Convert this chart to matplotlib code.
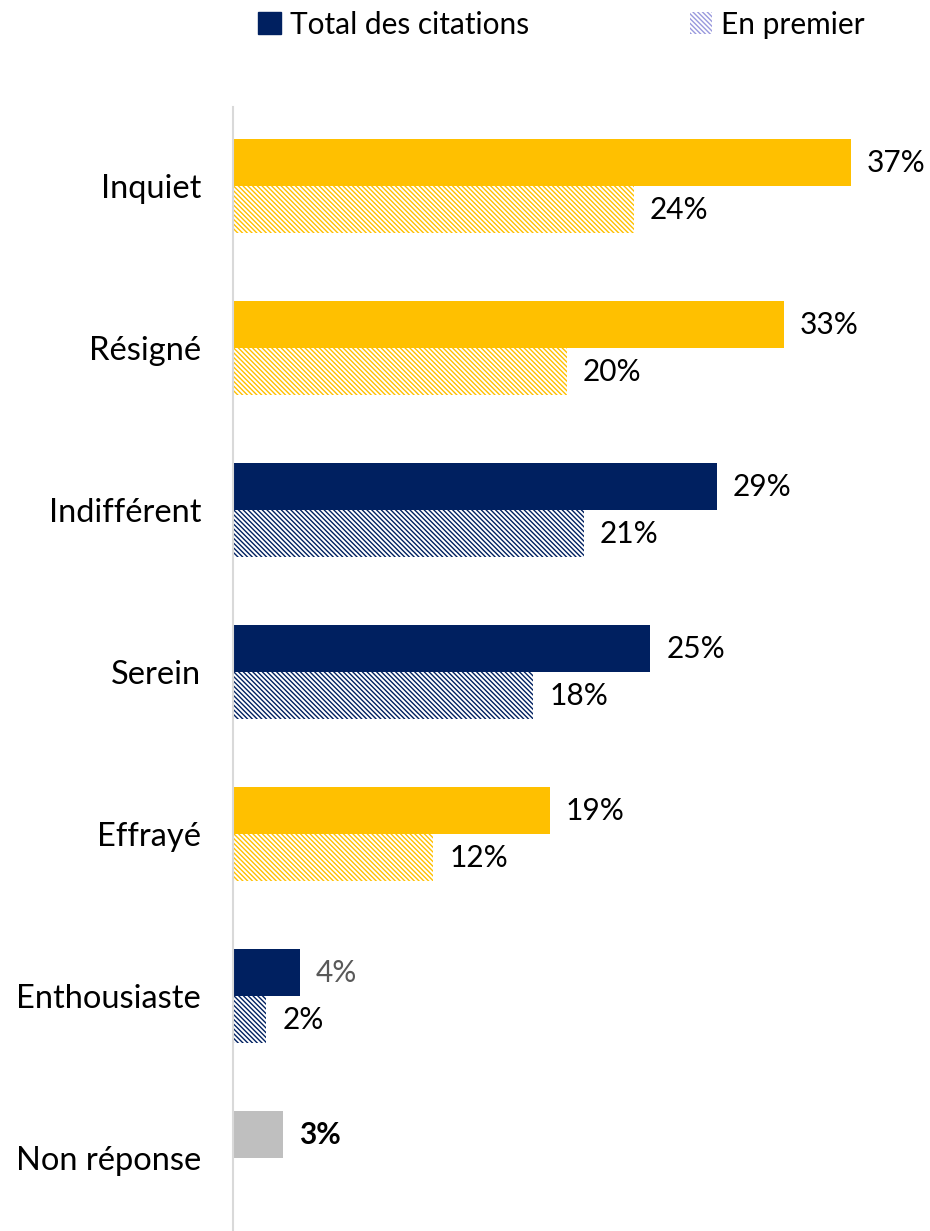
import numpy as np
import matplotlib.pyplot as plt
from matplotlib.patches import Patch

plt.rcParams['font.family'] = ['Lato', 'DejaVu Sans']
plt.rcParams['hatch.linewidth'] = 1.0

# Données
categories = ['Inquiet', 'Résigné', 'Indifférent', 'Serein', 'Effrayé',
              'Enthousiaste', 'Non réponse']
total = [37, 33, 29, 25, 19, 4, 3]
premier = [24, 20, 21, 18, 12, 2, np.nan]
couleurs = ['#FFC000', '#FFC000', '#002060', '#002060', '#FFC000',
            '#002060', '#BFBFBF']

fig = plt.figure(figsize=(9.3, 12.31), dpi=100)
ax = fig.add_axes([0.2505, 0.0, 0.736, 0.913])

y = np.arange(len(categories))
h = 0.29
hachure = '\\' * 7

for i in range(len(categories)):
    ax.barh(y[i] - h / 2, total[i], height=h, color=couleurs[i], linewidth=0)
    lab_col = '#595959' if categories[i] == 'Enthousiaste' else 'black'
    weight = 'bold' if categories[i] == 'Non réponse' else 'normal'
    ax.text(total[i] + 0.95, y[i] - h / 2, f'{total[i]}%', va='center', ha='left',
            fontsize=21.5, color=lab_col, fontweight=weight)
    if not np.isnan(premier[i]):
        ax.barh(y[i] + h / 2, premier[i], height=h, color='white',
                edgecolor=couleurs[i], hatch=hachure, linewidth=0)
        ax.text(premier[i] + 0.95, y[i] + h / 2, f'{premier[i]:.0f}%', va='center',
                ha='left', fontsize=21.5, color='black')

ax.set_xlim(0, 41)
ax.set_ylim(6.45, -0.49)
ax.set_yticks(y)
ax.set_yticklabels(categories, fontsize=23.5)
ax.tick_params(axis='y', length=0, pad=23)
ax.set_xticks([])
for s in ['top', 'right', 'bottom']:
    ax.spines[s].set_visible(False)
ax.spines['left'].set_color('#D9D9D9')
ax.spines['left'].set_linewidth(1.5)

handles = [Patch(facecolor='#002060', edgecolor='#002060'),
           Patch(facecolor='white', edgecolor='#9999DD', hatch=hachure, linewidth=0)]
fig.legend(handles, ['Total des citations', 'En premier'], loc='center',
           bbox_to_anchor=(0.604, 0.98), ncol=2, frameon=False, fontsize=21.5,
           handlelength=0.75, handleheight=0.75, handletextpad=0.3, columnspacing=5.4)

plt.savefig('out.png', dpi=100)
